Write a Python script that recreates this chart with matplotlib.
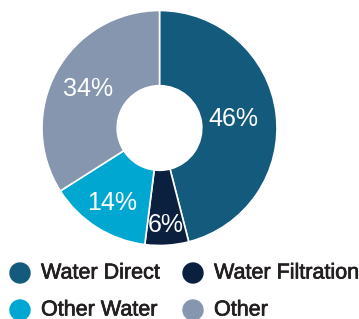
import numpy as np
import matplotlib
matplotlib.use("Agg")
import matplotlib.pyplot as plt
from matplotlib.patches import Circle
import matplotlib.patheffects as pe

plt.rcParams['font.family'] = ['Liberation Sans', 'DejaVu Sans']

labels = ["Water Direct", "Water Filtration", "Other Water", "Other"]
shares = [46, 6, 14, 34]
colors = ["#145a7c", "#0b1f3f", "#00a7d1", "#8596ae"]

W, H = 359, 319
fig = plt.figure(figsize=(W / 100, H / 100), dpi=100)
ax = fig.add_axes([0, 0, 1, 1])

cx, cy, R = 159.5, H - 128, 117.5
ax.pie(shares, colors=colors, startangle=90, counterclock=False,
       center=(cx, cy), radius=R, frame=True,
       wedgeprops=dict(width=R * 0.64, edgecolor="white", linewidth=1.2))
ax.set_xlim(0, W)
ax.set_ylim(0, H)
ax.set_aspect("equal")
ax.axis("off")

# percentage labels, placed at slice mid-angle
label_r = [0.63, 0.83, 0.76, 0.69]
start = 90
for s, f in zip(shares, label_r):
    mid = np.deg2rad(start - s * 3.6 / 2)
    ax.text(cx + R * f * np.cos(mid), cy + R * f * np.sin(mid), f"{s}%",
            color="white", fontsize=18, ha="center", va="center")
    start -= s * 3.6

# legend
thick = [pe.withStroke(linewidth=0.5, foreground="#231f20")]
for i, (lab, col) in enumerate(zip(labels, colors)):
    lx = 20 + 173 * (i % 2)
    ly = H - 273 - 37 * (i // 2)
    ax.add_patch(Circle((lx, ly), 10, color=col))
    ax.text(lx + 21, ly, lab, fontsize=15.5, color="#231f20",
            ha="left", va="center", path_effects=thick)

fig.savefig("out.png", dpi=100)
